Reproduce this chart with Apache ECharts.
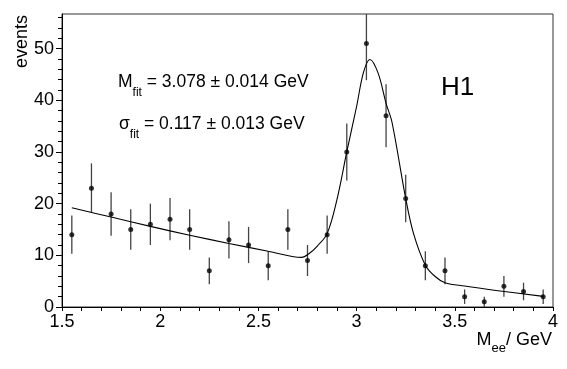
<!DOCTYPE html>
<html>
<head>
<meta charset="utf-8">
<script src="https://cdn.jsdelivr.net/npm/echarts@6/dist/echarts.min.js"></script>
<style>
html,body{margin:0;padding:0;background:#fff;}
#c{width:567px;height:369px;}
</style>
</head>
<body>
<div id="c"></div>
<script>
// ---- data ----
const massBins = [1.55,1.65,1.75,1.85,1.95,2.05,2.15,2.25,2.35,2.45,2.55,2.65,2.75,2.85,2.95,3.05,3.15,3.25,3.35,3.45,3.55,3.65,3.75,3.85,3.95];
const events   = [14,23,18,15,16,17,15,7,13,12,8,15,9,14,30,51,37,21,8,7,2,1,4,3,2];
const errors   = [3.7,4.8,4.2,3.9,4.0,4.1,3.9,2.6,3.6,3.5,2.8,3.9,3.0,3.7,5.5,7.1,6.1,4.6,2.8,2.6,1.4,1.0,2.0,1.7,1.4];

// fit curve, sampled by reading the drawn line
const fitX = [1.55,1.75,1.95,2.15,2.35,2.55,2.72,2.76,2.80,2.85,2.90,2.95,3.00,3.035,3.068,3.11,3.15,3.18,3.25,3.29,3.35,3.40,3.45,3.55,3.71,3.95];
const fitY = [19.2,17.4,15.6,13.9,12.3,10.8,9.6,10.4,11.8,14.2,20.8,30.0,38.8,45.4,47.9,45.2,39.4,35.8,21.0,14.2,8.1,5.9,4.7,4.05,3.2,2.05];

// axis ticks / labels
const xLabels = [1.5,2,2.5,3,3.5,4];
const xTicks  = [1.5,1.6,1.7,1.8,1.9,2.0,2.1,2.2,2.3,2.4,2.5,2.6,2.7,2.8,2.9,3.0,3.1,3.2,3.3,3.4,3.5,3.6,3.7,3.8,3.9,4.0];
const yLabels = [0,10,20,30,40,50];
const yMinorTicks = [2,4,6,8,12,14,16,18,22,24,26,28,32,34,36,38,42,44,46,48,52,54,56];

const FONT = '"Liberation Sans", Arial, Helvetica, sans-serif';

const chart = echarts.init(document.getElementById('c'), null, {renderer:'canvas'});

const pointData = massBins.map((x,i)=>[x, events[i]]);
const errData = massBins.map((x,i)=>[x, events[i]-errors[i], events[i]+errors[i]]);
const fitData = fitX.map((x,i)=>[x, fitY[i]]);

const option = {
  animation:false,
  backgroundColor:'#fff',
  grid:{left:62, right:14, top:14, bottom:62, show:true, borderColor:'#333', borderWidth:1, backgroundColor:'transparent'},
  xAxis:[{
    type:'value', min:1.5, max:4,
    axisLine:{show:true, lineStyle:{color:'#000', width:1}},
    axisTick:{show:true, inside:false, length:4, customValues:xTicks, lineStyle:{color:'#000'}},
    axisLabel:{customValues:xLabels, color:'#000', fontSize:18, fontFamily:FONT, margin:6,
      formatter:v=>String(v)},
    splitLine:{show:false}
  }],
  yAxis:[{
    type:'value', min:0, max:56.7,
    axisLine:{show:true, lineStyle:{color:'#000', width:1}},
    axisTick:{show:true, inside:false, length:6, customValues:yLabels, lineStyle:{color:'#000'}},
    axisLabel:{customValues:yLabels, color:'#000', fontSize:18, fontFamily:FONT, margin:8},
    splitLine:{show:false}
  },{
    type:'value', min:0, max:56.7, position:'left',
    axisLine:{show:false},
    axisTick:{show:true, inside:false, length:4, customValues:yMinorTicks, lineStyle:{color:'#000'}},
    axisLabel:{show:false},
    splitLine:{show:false}
  }],
  series:[
    {
      type:'custom', name:'err', clip:true, data:errData,
      renderItem:function(params, api){
        const p1 = api.coord([api.value(0), api.value(1)]);
        const p2 = api.coord([api.value(0), api.value(2)]);
        return {type:'line', shape:{x1:p1[0], y1:p1[1], x2:p2[0], y2:p2[1]},
          style:{stroke:'#444', lineWidth:1.3}};
      },
      z:2
    },
    {
      type:'line', name:'fit', data:fitData, showSymbol:false, symbol:'none',
      smooth:0.35,
      lineStyle:{color:'#000', width:1.1}, z:3
    },
    {
      type:'scatter', name:'data', data:pointData, symbol:'circle', symbolSize:5,
      itemStyle:{color:'#000'}, z:4
    }
  ],
  graphic:[
    {type:'text', x:118, y:82, style:{
      text:'{m|M}{s|fit}{m| = 3.078 ± 0.014 GeV}', align:'left', verticalAlign:'middle',
      rich:{m:{fontSize:17.5, fontFamily:FONT, fill:'#000'}, s:{fontSize:12, fontFamily:FONT, fill:'#000', padding:[22,0,0,0]}}
    }},
    {type:'text', x:119, y:124, style:{
      text:'{m|σ}{s|fit}{m| = 0.117 ± 0.013 GeV}', align:'left', verticalAlign:'middle',
      rich:{m:{fontSize:17.5, fontFamily:FONT, fill:'#000'}, s:{fontSize:12, fontFamily:FONT, fill:'#000', padding:[22,0,0,0]}}
    }},
    {type:'text', x:441, y:88, style:{text:'H1', fontSize:26, fontFamily:FONT, fill:'#000', align:'left', verticalAlign:'middle'}},
    {type:'text', x:552, y:340, style:{
      text:'{m|M}{s|ee}{m|/ GeV}', align:'right', verticalAlign:'middle',
      rich:{m:{fontSize:18, fontFamily:FONT, fill:'#000'}, s:{fontSize:13, fontFamily:FONT, fill:'#000', padding:[16,0,0,0]}}
    }},
    {type:'text', x:22, y:15, rotation:Math.PI/2, style:{text:'events', fontSize:18, fontFamily:FONT, fill:'#000', align:'right', verticalAlign:'middle'}}
  ]
};
chart.setOption(option);
</script>
</body>
</html>
